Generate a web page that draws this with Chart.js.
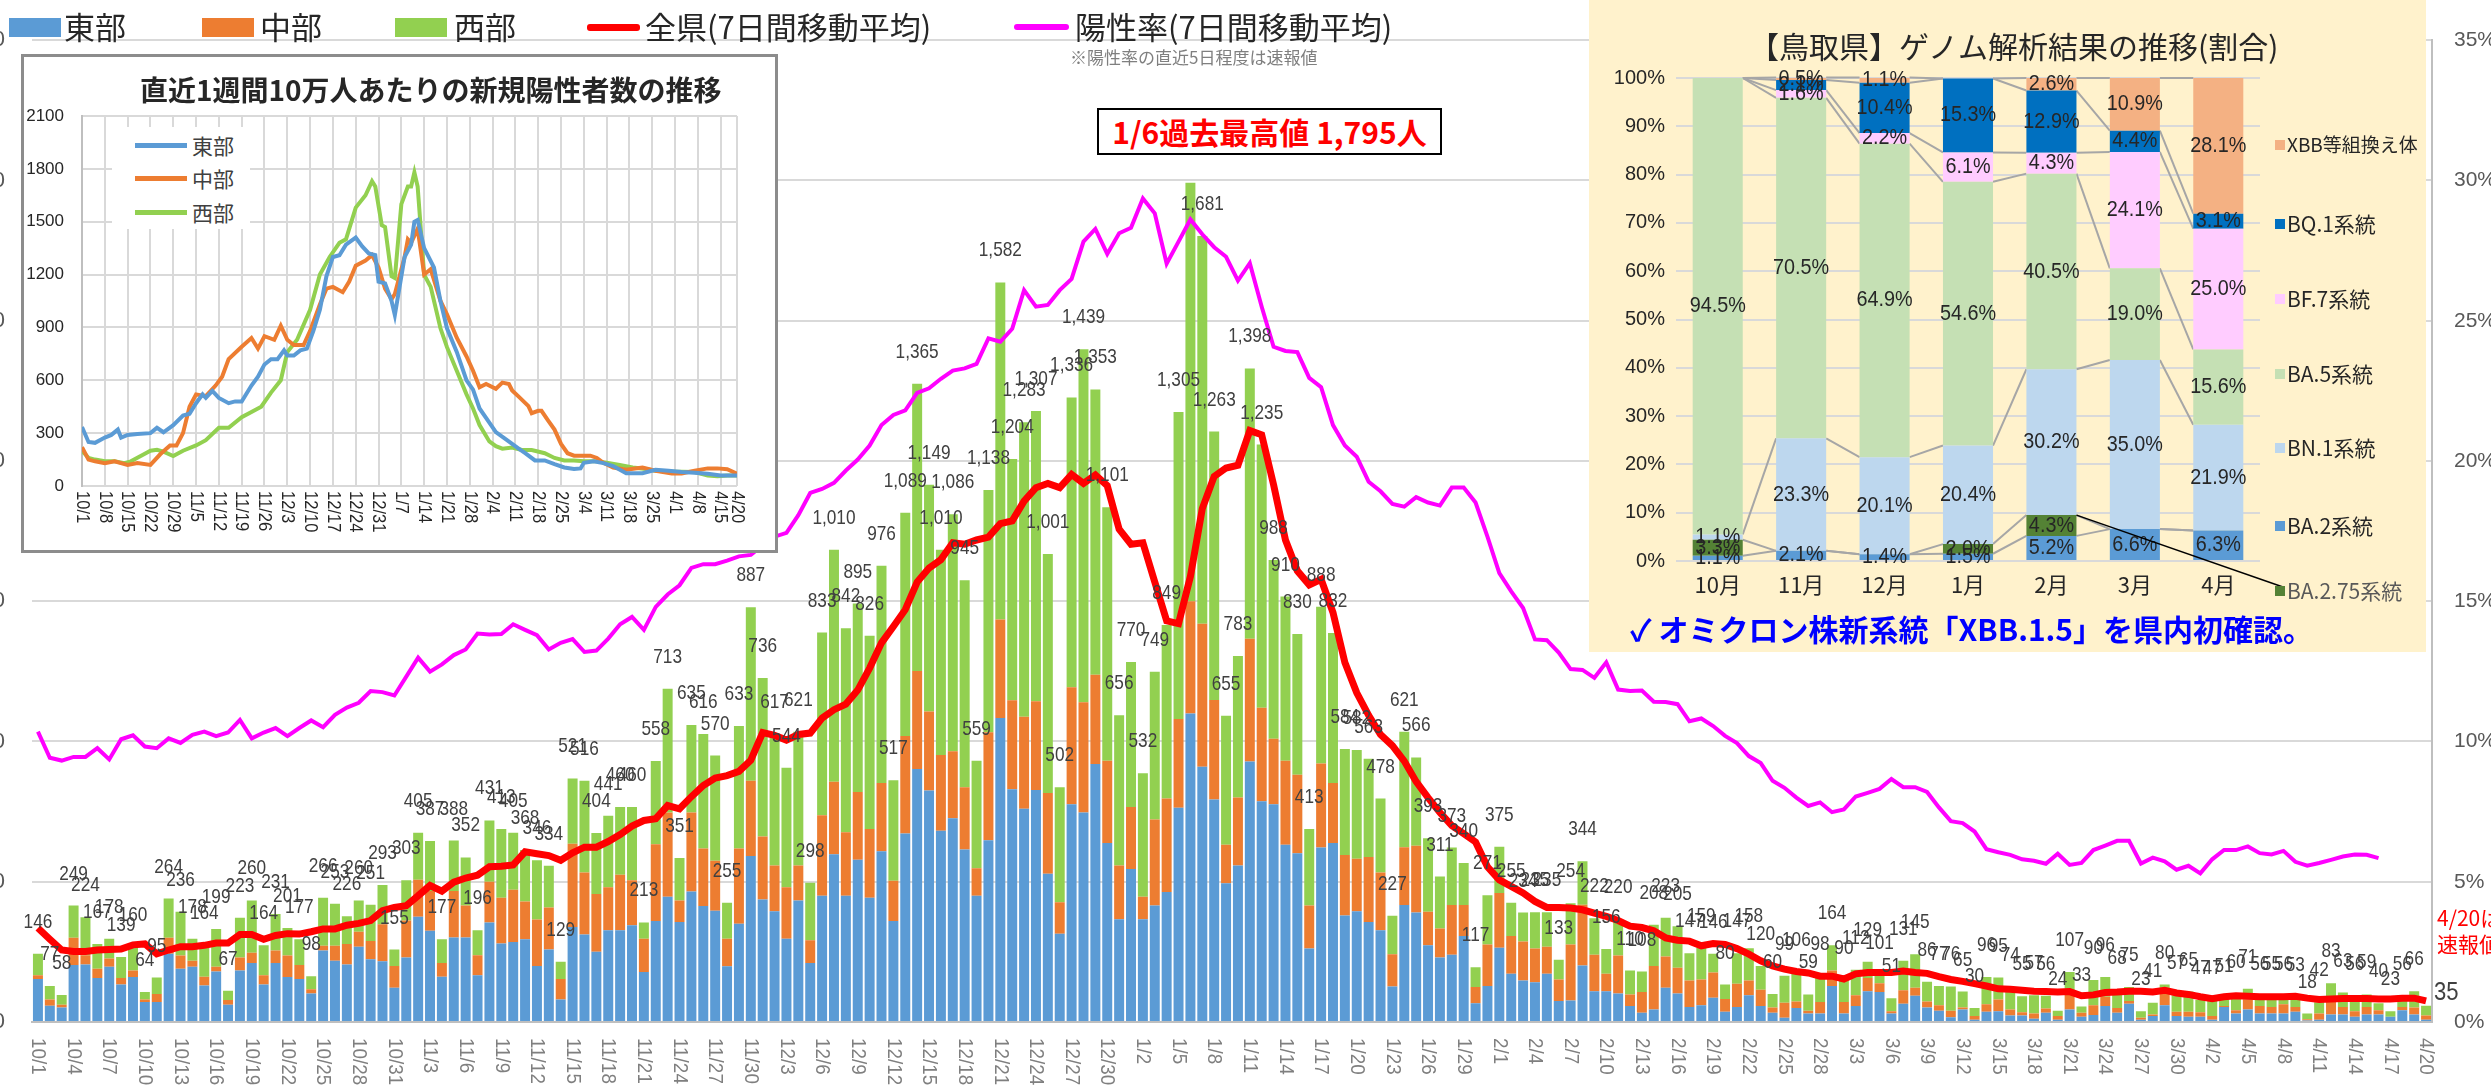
<!DOCTYPE html>
<html lang="ja">
<head>
<meta charset="utf-8">
<title>鳥取県 新規陽性者数の推移</title>
<script src="https://cdn.jsdelivr.net/npm/chart.js@4.4.1/dist/chart.umd.min.js"></script>
<style>
  html, body { margin: 0; padding: 0; }
  body { width: 2491px; height: 1088px; position: relative; overflow: hidden; background: #fff;
         font-family: "Noto Sans CJK JP", "Noto Sans", sans-serif; color: #262626; }
  .abs { position: absolute; white-space: nowrap; }
  .box { position: absolute; }
  .leg { font-size: 31px; line-height: 40px; top: 6px; }
</style>
</head>
<body>

<canvas id="chart" width="2521" height="1088" style="position:absolute;left:-30px;top:0"></canvas>

<!-- legend of the main chart -->
<div class="box" style="left:9px;top:18px;width:52px;height:19px;background:#5B9BD5"></div>
<div class="abs leg" style="left:64px">東部</div>
<div class="box" style="left:202px;top:18px;width:52px;height:19px;background:#ED7D31"></div>
<div class="abs leg" style="left:260px">中部</div>
<div class="box" style="left:395px;top:18px;width:52px;height:19px;background:#92D050"></div>
<div class="abs leg" style="left:454px">西部</div>
<div class="box" style="left:587px;top:24px;width:53px;height:7px;background:#FF0000;border-radius:3px"></div>
<div class="abs leg" style="left:645px">全県(7日間移動平均)</div>
<div class="box" style="left:1014px;top:24px;width:55px;height:6px;background:#FF00FF;border-radius:3px"></div>
<div class="abs leg" style="left:1075px">陽性率(7日間移動平均)</div>
<div class="abs" style="left:1070px;top:46px;font-size:17px;line-height:22px;color:#7f7f7f">※陽性率の直近5日程度は速報値</div>

<div class="abs" style="left:1097px;top:108px;width:341px;height:43px;border:2px solid #000;background:#fff;
     color:#FF0000;font-weight:bold;font-size:30px;line-height:43px;text-align:center">1/6過去最高値 1,795人</div>

<div class="abs" style="left:2437px;top:904px;font-size:21px;line-height:26px;color:#FF0000">4/20は<br>速報値</div>

<!-- inset: per 100k line chart -->
<div class="box" style="left:21px;top:54px;width:751px;height:493px;border:3px solid #8c8c8c;background:#fff">
  <canvas id="inset" width="751" height="493" style="position:absolute;left:0;top:0"></canvas>
  <div class="abs" style="left:116px;top:14px;font-size:28px;line-height:36px;font-weight:bold;color:#262626">直近1週間10万人あたりの新規陽性者数の推移</div>
  <div class="box" style="left:88px;top:70px;width:138px;height:102px;background:#fff">
    <div class="box" style="left:23px;top:16px;width:52px;height:5px;background:#5B9BD5"></div>
    <div class="abs" style="left:80px;top:4px;font-size:21px;line-height:28px;color:#404040">東部</div>
    <div class="box" style="left:23px;top:49px;width:52px;height:5px;background:#ED7D31"></div>
    <div class="abs" style="left:80px;top:37px;font-size:21px;line-height:28px;color:#404040">中部</div>
    <div class="box" style="left:23px;top:83px;width:52px;height:5px;background:#92D050"></div>
    <div class="abs" style="left:80px;top:71px;font-size:21px;line-height:28px;color:#404040">西部</div>
  </div>
</div>

<!-- genome analysis panel -->
<div class="box" style="left:1589px;top:0;width:837px;height:652px;background:#FFF2CC">
  <canvas id="genome" width="837" height="652" style="position:absolute;left:0;top:0"></canvas>
  <div class="abs" style="left:160px;top:25px;font-size:30px;line-height:40px;color:#262626">【鳥取県】ゲノム解析結果の推移(割合)</div>
  <div class="abs" style="left:41px;top:609px;font-size:30px;line-height:38px;font-weight:bold;color:#0000FF">✓ オミクロン株新系統「XBB.1.5」を県内初確認。</div>
</div>

<script>
// ---------- main chart data (10/1 - 4/20, daily) ----------
const east = [
  92,35,31,122,123,94,118,80,96,43,
  43,146,114,118,78,108,37,110,126,80,
  126,96,92,61,153,131,123,161,134,130,
  73,138,225,195,97,181,181,100,213,168,
  171,177,120,155,48,203,187,150,196,196,
  207,107,216,268,214,279,248,238,119,210,
  355,262,237,178,260,126,270,359,270,347,
  266,365,216,403,541,495,409,436,369,270,
  389,650,498,456,496,317,189,466,448,552,
  383,220,327,220,249,278,458,660,546,476,
  297,335,557,472,466,379,361,157,373,383,
  228,237,214,196,76,250,234,164,138,144,
  184,40,77,159,103,89,85,103,45,46,
  121,66,66,61,34,20,27,73,61,32,
  36,52,22,32,57,34,20,9,30,18,
  18,77,18,34,66,64,18,39,56,31,
  24,10,27,5,22,23,14,14,7,20,
  5,27,11,15,34,20,39,5,13,36,
  13,11,11,5,32,18,27,18,18,18,
  22,3,5,16,16,11,16,16,11,25,
  16,5
];
const central = [
  8,13,6,58,20,20,18,14,14,5,
  17,34,28,13,19,10,10,28,22,20,
  27,46,30,9,10,32,44,32,39,79,
  47,79,79,85,29,99,68,43,87,98,
  112,81,99,90,44,178,133,124,92,119,
  96,71,164,180,46,169,123,107,59,161,
  161,135,98,110,75,49,172,155,136,145,
  147,146,86,209,210,169,162,143,133,59,
  231,211,190,197,190,173,67,250,236,191,
  176,115,133,48,184,200,190,240,306,213,
  82,145,263,200,140,180,168,92,180,128,
  129,112,139,124,69,124,143,72,62,106,
  66,35,89,117,81,83,72,58,46,120,
  130,78,37,81,25,44,93,67,55,57,
  55,54,27,50,32,35,11,32,14,6,
  25,33,25,23,28,19,5,29,17,13,
  12,14,4,8,16,25,13,7,11,9,
  8,41,9,21,20,10,6,4,3,37,
  9,11,10,8,2,7,21,16,14,20,
  10,3,13,33,16,12,16,9,0,7,
  15,9
];
const west = [
  46,29,21,69,81,53,42,45,50,16,
  35,84,94,47,67,81,20,85,112,64,
  78,59,55,28,103,90,59,67,78,84,
  35,86,101,107,51,108,103,53,131,147,
  122,110,127,89,37,140,196,130,153,145,
  157,35,178,265,91,187,245,225,77,262,
  371,339,282,256,286,123,391,496,436,403,
  413,465,215,477,614,485,439,507,443,230,
  518,721,516,630,621,511,246,620,755,610,
  542,321,310,264,316,371,657,895,829,574,
  276,303,578,563,382,351,301,164,335,321,
  227,233,210,158,82,247,189,157,111,123,
  90,42,105,99,71,62,78,74,42,88,
  93,78,53,78,51,44,88,83,89,58,
  68,40,31,65,69,51,29,58,62,35,
  55,54,47,55,35,18,28,63,72,42,
  41,52,34,17,58,47,47,34,39,27,
  11,39,13,54,42,38,30,14,25,7,
  35,43,26,34,17,35,23,22,23,18,
  21,12,24,34,31,33,27,15,12,24,
  35,21
];
// 全県 7日間移動平均
const avg7 = [
  201,177,154,151,151,154,155,156,165,167,
  146,154,161,161,164,169,169,187,187,177,
  185,189,188,193,199,199,207,211,217,238,
  245,249,270,292,280,299,308,314,332,333,
  336,364,360,356,346,362,374,374,386,401,
  419,431,435,463,456,482,506,522,527,536,
  560,619,613,603,615,618,650,668,680,710,
  757,811,846,882,941,971,989,1025,1022,1031,
  1037,1066,1072,1114,1143,1152,1143,1171,1152,1170,
  1147,1054,1022,1025,941,858,852,953,1098,1167,
  1185,1191,1265,1256,1149,1031,965,935,947,876,
  769,704,656,615,591,558,514,480,448,420,
  403,385,332,304,290,276,258,245,245,244,
  240,233,226,217,205,202,195,180,175,173,
  163,168,166,157,145,131,120,113,108,105,
  98,98,92,103,106,106,106,109,106,104,
  97,91,87,82,77,71,70,68,66,65,
  64,65,56,58,63,64,66,66,64,68,
  62,59,54,50,54,56,55,54,54,54,
  55,51,48,49,50,50,50,49,49,51,
  51,45
];
// 陽性率 7日間移動平均 (%)
const posRate = [
  10.35,9.42,9.32,9.45,9.45,9.76,9.36,10.08,10.22,9.82,
  9.76,10.11,9.95,10.24,10.35,10.19,10.32,10.77,10.11,10.32,
  10.48,10.19,10.48,10.75,10.51,10.95,11.21,11.38,11.80,11.76,
  11.64,12.31,12.99,12.49,12.75,13.08,13.28,13.85,13.81,13.83,
  14.18,13.98,13.79,13.28,13.52,13.65,13.19,13.24,13.67,14.18,
  14.44,13.98,14.80,15.24,15.57,16.19,16.32,16.32,16.45,16.60,
  16.65,17.0,17.3,17.44,18.07,18.86,19.0,19.22,19.66,20.05,
  20.55,21.28,21.64,21.80,22.43,22.59,22.93,23.22,23.30,23.46,
  24.37,24.25,24.71,26.09,25.50,25.56,26.09,26.49,27.82,28.27,
  27.38,28.12,28.31,29.36,28.83,27.03,27.82,28.61,28.08,27.62,
  27.28,26.43,27.05,25.50,24.07,23.92,23.88,22.96,22.63,21.28,
  20.55,20.15,19.26,18.92,18.47,18.37,18.71,18.52,18.41,19.05,
  19.05,18.52,17.3,16.0,15.35,14.76,13.64,13.61,13.17,12.58,
  12.55,12.27,12.82,11.85,11.8,11.82,11.42,11.41,11.33,10.72,
  10.82,10.55,10.2,9.94,9.48,9.23,8.6,8.35,8.0,7.7,
  7.83,7.48,7.58,8.04,8.17,8.31,8.66,8.37,8.37,8.2,
  7.65,7.16,7.09,6.79,6.16,6.05,5.96,5.8,5.75,5.64,
  6.0,5.6,5.67,6.13,6.29,6.46,6.46,5.65,5.86,5.73,
  5.43,5.57,5.30,5.80,6.13,6.13,6.26,6.02,5.97,6.10,
  5.71,5.57,5.67,5.78,5.9,5.97,5.96,5.84,null,null,
  null,null
];
const hiddenLabels = [97];   // 1/6 total is shown in the callout box instead

// dates 10/1 .. 4/20
const dates = [];
for (let d = new Date(2022, 9, 1); d <= new Date(2023, 3, 20); d.setDate(d.getDate() + 1)) {
  dates.push((d.getMonth() + 1) + '/' + d.getDate());
}

// ---------- inset: 直近1週間10万人あたり ([day index, value]) ----------
const insetEast = [[0,335],[2,250],[4,245],[7,275],[9,290],[11,320],[12,275],[14,290],[17,295],[21,300],
  [23,330],[25,305],[28,345],[31,400],[33,410],[35,470],[37,520],[38,500],[40,540],[42,500],[45,470],
  [47,480],[49,480],[52,570],[54,620],[56,690],[58,720],[60,720],[62,770],[63,740],[65,740],[67,770],
  [69,780],[71,880],[73,1000],[75,1190],[77,1300],[79,1310],[81,1370],[84,1410],[86,1360],[88,1320],
  [90,1310],[91,1160],[93,1150],[95,1050],[96,970],[99,1300],[101,1370],[102,1500],[103,1510],[105,1350],
  [108,1240],[110,1050],[112,895],[115,761],[118,600],[120,547],[122,440],[125,360],[127,306],[130,266],
  [134,212],[136,186],[139,145],[142,145],[145,124],[148,105],[151,97],[153,100],[154,132],[157,140],
  [160,130],[163,113],[167,73],[172,73],[176,92],[180,87],[184,80],[188,75],[192,70],[196,60],[201,60]];
const insetCentral = [[0,220],[2,150],[4,140],[7,130],[10,140],[14,120],[17,130],[21,120],[24,180],[27,230],
  [29,230],[31,300],[33,450],[35,520],[38,510],[41,570],[43,620],[45,720],[49,790],[52,840],[54,780],
  [56,850],[59,830],[61,910],[63,830],[65,800],[68,800],[70,880],[73,1030],[75,1120],[77,1130],[80,1100],
  [82,1160],[84,1250],[87,1280],[89,1310],[91,1240],[93,1120],[95,1060],[96,1090],[99,1300],[100,1400],
  [101,1380],[103,1460],[105,1200],[107,1230],[110,1050],[112,975],[115,842],[118,735],[120,654],
  [122,560],[124,579],[127,552],[129,587],[131,579],[132,542],[134,507],[137,453],[138,413],[140,427],
  [141,427],[143,373],[145,320],[147,239],[149,186],[151,172],[156,172],[158,159],[160,132],[163,105],
  [167,92],[172,105],[176,87],[181,71],[184,71],[188,87],[192,100],[195,100],[198,95],[201,70]];
const insetWest = [[0,200],[2,160],[4,150],[7,140],[10,140],[13,130],[15,140],[17,160],[19,180],[21,200],
  [23,205],[25,195],[28,170],[31,200],[35,230],[38,260],[42,330],[45,330],[49,390],[52,420],[55,450],
  [58,530],[61,600],[63,760],[66,830],[70,1000],[73,1200],[76,1300],[79,1380],[81,1400],[84,1580],
  [87,1650],[89,1730],[90,1700],[92,1480],[93,1470],[95,1190],[96,1180],[98,1600],[100,1700],[101,1700],
  [102,1780],[103,1700],[105,1200],[107,1130],[110,895],[112,788],[115,654],[118,520],[120,440],
  [122,346],[125,253],[127,226],[129,212],[132,218],[135,204],[138,204],[142,186],[145,159],[148,145],
  [151,145],[154,140],[158,140],[161,132],[165,119],[169,105],[173,97],[176,87],[181,81],[184,81],
  [188,79],[192,60],[195,55],[198,60],[201,60]];
const insetTickDays = [0,7,14,21,28,35,42,49,56,63,70,77,84,91,98,105,112,119,126,133,140,147,154,161,168,175,182,189,196,201];
const insetTickLabels = ['10/1','10/8','10/15','10/22','10/29','11/5','11/12','11/19','11/26','12/3','12/10',
  '12/17','12/24','12/31','1/7','1/14','1/21','1/28','2/4','2/11','2/18','2/25','3/4','3/11','3/18',
  '3/25','4/1','4/8','4/15','4/20'];

// ---------- genome analysis (%) ----------
const months = ['10月','11月','12月','1月','2月','3月','4月'];
const ba2    = [1.1, 2.1, 1.4, 1.5, 5.2, 6.6, 6.3];
const ba275  = [3.3, 0, 0, 2.0, 4.3, 0, 0];
const bn1    = [1.1, 23.3, 20.1, 20.4, 30.2, 35.0, 21.9];
const ba5    = [94.5, 70.5, 64.9, 54.6, 40.5, 19.0, 15.6];
const bf7    = [0, 1.6, 2.2, 6.1, 4.3, 24.1, 25.0];
const bq1    = [0, 2.1, 10.4, 15.3, 12.9, 4.4, 3.1];
const xbb    = [0, 0.5, 1.1, 0, 2.6, 10.9, 28.1];

const NUM_FONT = '"Liberation Sans", Arial, sans-serif';

// draws text squeezed horizontally, like the narrow font of the original
function narrowText(ctx, txt, x, y, sx) {
  ctx.save();
  ctx.translate(x, y);
  ctx.scale(sx, 1);
  ctx.fillText(txt, 0, 0);
  ctx.restore();
}

const mainLabels = {
  id: 'mainLabels',
  afterDatasetsDraw(chart) {
    const ctx = chart.ctx;
    const xs = chart.scales.x, ys = chart.scales.y;
    ctx.save();
    ctx.fillStyle = '#404040';
    ctx.textAlign = 'center';
    ctx.textBaseline = 'alphabetic';
    dates.forEach((d, i) => {
      if (hiddenLabels.includes(i)) return;
      const total = east[i] + central[i] + west[i];
      const px = xs.getPixelForValue(i);
      const py = ys.getPixelForValue(total);
      if (i === dates.length - 1) {
        ctx.font = '26px ' + NUM_FONT;
        ctx.textAlign = 'left';
        narrowText(ctx, String(total), px + 8, py - 6, 0.85);
        ctx.textAlign = 'center';
        return;
      }
      ctx.font = '21px ' + NUM_FONT;
      narrowText(ctx, total.toLocaleString('en-US'), px, py - 26, 0.82);
    });
    // x tick labels, every 3 days, rotated clockwise
    ctx.fillStyle = '#7f7f7f';
    ctx.font = '21px ' + NUM_FONT;
    ctx.textAlign = 'left';
    ctx.textBaseline = 'middle';
    dates.forEach((d, i) => {
      if (i % 3) return;
      ctx.save();
      ctx.translate(xs.getPixelForValue(i), 1038);
      ctx.rotate(Math.PI / 2);
      ctx.scale(0.9, 1);
      ctx.fillText(d, 0, 0);
      ctx.restore();
    });
    ctx.restore();
  }
};

new Chart(document.getElementById('chart'), {
  type: 'bar',
  data: {
    labels: dates,
    datasets: [
      { type: 'line', label: '全県(7日間移動平均)', data: avg7, borderColor: '#FF0000', borderWidth: 7,
        pointRadius: 0, tension: 0, yAxisID: 'y', stack: 'avg', order: 1 },
      { type: 'line', label: '陽性率(7日間移動平均)', data: posRate, borderColor: '#FF00FF', borderWidth: 4,
        pointRadius: 0, tension: 0, yAxisID: 'y1', stack: 'rate', order: 2 },
      { label: '東部', data: east, backgroundColor: '#5B9BD5', stack: 's', order: 3 },
      { label: '中部', data: central, backgroundColor: '#ED7D31', stack: 's', order: 3 },
      { label: '西部', data: west, backgroundColor: '#92D050', stack: 's', order: 3 }
    ]
  },
  options: {
    responsive: false,
    animation: false,
    devicePixelRatio: 1,
    datasets: { bar: { barPercentage: 0.84, categoryPercentage: 1 } },
    layout: { padding: { top: 29, left: 0, right: 0, bottom: 0 } },
    plugins: { legend: { display: false }, tooltip: { enabled: false } },
    scales: {
      x: {
        stacked: true,
        grid: { display: false },
        border: { color: '#bfbfbf', width: 2 },
        ticks: { display: false },
        afterFit(s) { s.height = 66; }
      },
      y: {
        stacked: true, min: 0, max: 2100,
        grid: { color: '#d9d9d9', lineWidth: 2, drawTicks: false },
        border: { display: false },
        ticks: { stepSize: 300, color: '#595959', padding: 27, font: { family: NUM_FONT, size: 22 },
                 callback: v => v.toLocaleString('en-US') },
        afterFit(s) { s.width = 62; }
      },
      y1: {
        position: 'right', min: 0, max: 35,
        grid: { drawOnChartArea: false, drawTicks: false },
        border: { display: true, color: '#bfbfbf', width: 2 },
        ticks: { stepSize: 5, color: '#595959', padding: 22, font: { family: NUM_FONT, size: 21 },
                 callback: v => v + '%' },
        afterFit(s) { s.width = 59; }
      }
    }
  },
  plugins: [mainLabels]
});

// ---------- inset chart ----------
const insetLabels = {
  id: 'insetLabels',
  afterDraw(chart) {
    const ctx = chart.ctx, xs = chart.scales.x;
    ctx.save();
    ctx.fillStyle = '#262626';
    ctx.font = '19px ' + NUM_FONT;
    ctx.textAlign = 'left';
    ctx.textBaseline = 'middle';
    insetTickDays.forEach((d, i) => {
      ctx.save();
      ctx.translate(xs.getPixelForValue(d), 434);
      ctx.rotate(Math.PI / 2);
      ctx.scale(0.87, 1);
      ctx.fillText(insetTickLabels[i], 0, 0);
      ctx.restore();
    });
    ctx.restore();
  }
};

const pts = arr => arr.map(([x, y]) => ({ x, y }));
new Chart(document.getElementById('inset'), {
  type: 'line',
  data: {
    datasets: [
      { label: '東部', data: pts(insetEast), borderColor: '#5B9BD5' },
      { label: '中部', data: pts(insetCentral), borderColor: '#ED7D31' },
      { label: '西部', data: pts(insetWest), borderColor: '#92D050' }
    ]
  },
  options: {
    responsive: false,
    animation: false,
    devicePixelRatio: 1,
    elements: { line: { borderWidth: 4, tension: 0 }, point: { radius: 0 } },
    layout: { padding: { top: 59, right: 38, left: 0, bottom: 0 } },
    plugins: { legend: { display: false }, tooltip: { enabled: false } },
    scales: {
      x: {
        type: 'linear', min: 0, max: 201,
        afterBuildTicks(s) { s.ticks = insetTickDays.map(v => ({ value: v })); },
        grid: { color: '#d9d9d9', lineWidth: 2, drawTicks: false },
        border: { display: false },
        ticks: { display: false },
        afterFit(s) { s.height = 64; }
      },
      y: {
        min: 0, max: 2100,
        grid: { color: '#d9d9d9', lineWidth: 2, drawTicks: false },
        border: { color: '#bfbfbf', width: 2 },
        ticks: { stepSize: 300, color: '#262626', padding: 18, font: { family: NUM_FONT, size: 17 },
                 callback: v => String(v) },
        afterFit(s) { s.width = 58; }
      }
    }
  },
  plugins: [insetLabels]
});

// ---------- genome chart ----------
const genomeSeries = [
  { label: 'BA.2系統', data: ba2, color: '#5B9BD5', legendY: 526 },
  { label: 'BA.2.75系統', data: ba275, color: '#548235', legendY: 591 },
  { label: 'BN.1系統', data: bn1, color: '#BDD7EE', legendY: 448 },
  { label: 'BA.5系統', data: ba5, color: '#C5E0B4', legendY: 374 },
  { label: 'BF.7系統', data: bf7, color: '#FFCCFF', legendY: 299 },
  { label: 'BQ.1系統', data: bq1, color: '#0070C0', legendY: 224 },
  { label: 'XBB等組換え体', data: xbb, color: '#F4B183', legendY: 145 }
];

const genomeExtras = {
  id: 'genomeExtras',
  beforeDatasetsDraw(chart) {
    // series lines between neighbouring bars
    const ctx = chart.ctx;
    ctx.save();
    ctx.strokeStyle = '#a6a6a6';
    ctx.lineWidth = 2;
    chart.data.datasets.forEach((ds, j) => {
      const bars = chart.getDatasetMeta(j).data;
      for (let i = 0; i < bars.length - 1; i++) {
        const a = bars[i], b = bars[i + 1];
        ctx.beginPath();
        ctx.moveTo(a.x + a.width / 2, a.y);
        ctx.lineTo(b.x - b.width / 2, b.y);
        ctx.stroke();
      }
    });
    ctx.restore();
  },
  afterDatasetsDraw(chart) {
    const ctx = chart.ctx;
    ctx.save();
    // segment labels
    ctx.fillStyle = '#262626';
    ctx.font = '22px ' + NUM_FONT;
    ctx.textAlign = 'center';
    ctx.textBaseline = 'middle';
    chart.data.datasets.forEach((ds, j) => {
      chart.getDatasetMeta(j).data.forEach((bar, i) => {
        const v = ds.data[i];
        if (!v) return;
        narrowText(ctx, v.toFixed(1) + '%', bar.x, (bar.y + bar.base) / 2, 0.9);
      });
    });
    // leader line from the 2月 BA.2.75 segment to its legend entry
    const feb = chart.getDatasetMeta(1).data[4];
    ctx.strokeStyle = '#000';
    ctx.lineWidth = 1.5;
    ctx.beginPath();
    ctx.moveTo(feb.x + feb.width / 2, feb.y);
    ctx.lineTo(694, 587);
    ctx.stroke();
    // legend
    ctx.textAlign = 'left';
    genomeSeries.forEach(s => {
      ctx.fillStyle = s.color;
      ctx.fillRect(686, s.legendY - 5, 10, 10);
      ctx.fillStyle = s.label === 'BA.2.75系統' ? '#595959' : '#262626';
      ctx.font = (s.label === 'XBB等組換え体' ? '19px ' : '21px ') + '"Noto Sans CJK JP", sans-serif';
      ctx.fillText(s.label, 698, s.legendY);
    });
    ctx.restore();
  }
};

new Chart(document.getElementById('genome'), {
  type: 'bar',
  data: {
    labels: months,
    datasets: genomeSeries.map(s => ({ label: s.label, data: s.data, backgroundColor: s.color,
      barPercentage: 0.6, categoryPercentage: 1 }))
  },
  options: {
    responsive: false,
    animation: false,
    devicePixelRatio: 1,
    layout: { padding: { top: 78, right: 166, left: 0, bottom: 0 } },
    plugins: { legend: { display: false }, tooltip: { enabled: false } },
    scales: {
      x: {
        stacked: true,
        grid: { display: false, drawTicks: false },
        border: { display: false },
        ticks: { color: '#262626', padding: 10, font: { family: '"Noto Sans CJK JP", sans-serif', size: 22 } },
        afterFit(s) { s.height = 91; }
      },
      y: {
        stacked: true, min: 0, max: 100,
        grid: { color: '#d9d9d9', lineWidth: 2, drawTicks: false },
        border: { display: false },
        ticks: { stepSize: 10, color: '#262626', padding: 11, font: { family: NUM_FONT, size: 20 },
                 callback: v => v + '%' },
        afterFit(s) { s.width = 87; }
      }
    }
  },
  plugins: [genomeExtras]
});
</script>
</body>
</html>
